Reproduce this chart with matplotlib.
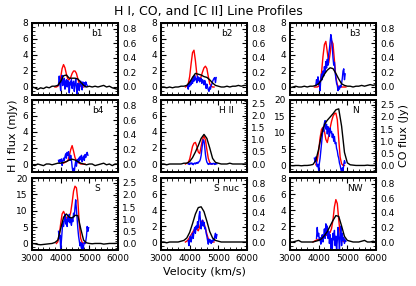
import numpy as np
import matplotlib
matplotlib.use("Agg")
import matplotlib.pyplot as plt
from matplotlib.ticker import MultipleLocator, AutoMinorLocator

# panel names, in reading order
panels = ["b1", "b2", "b3", "b4", "H II", "N", "S", "S nuc", "NW"]

# H I velocity grid (km/s), one point every 100 km/s from 3000 to 6000
hi_v0, hi_dv = 3000, 100

# H I profiles (mJy), black
hi_b1 = [0.0, -0.1, -0.3, -0.1, -0.2, 0.0, -0.1, 0.1, 0.1, 0.2, 0.7, 1.4, 1.5, 1.1, 1.1, 1.1,
         1.0, 0.6, 0.2, 0.0, 0.1, 0.0, 0.1, 0.0, 0.1, 0.2, 0.0, 0.1, -0.1, -0.2, -0.3]
hi_b2 = [0.0, 0.0, -0.1, 0.0, -0.1, 0.0, 0.0, 0.1, 0.1, 0.2, 0.6, 1.2, 1.7, 1.6, 1.5, 1.3,
         1.2, 0.9, 0.5, 0.2, 0.1, 0.0, 0.0, 0.1, 0.0, 0.1, 0.1, 0.2, 0.1, 0.2, 0.2]
hi_b3 = [-0.1, 0.0, 0.1, 0.0, 0.0, 0.1, 0.0, 0.1, 0.1, 0.2, 0.4, 0.9, 1.6, 2.1, 2.4, 2.3,
         1.7, 1.0, 0.4, 0.2, 0.1, 0.1, 0.0, 0.1, 0.1, 0.2, 0.1, 0.2, 0.3, 0.2, 0.3]
hi_b4 = [-0.1, -0.2, 0.0, -0.1, -0.2, 0.0, 0.0, -0.1, 0.0, 0.1, 0.1, 0.2, 0.3, 0.5, 0.6, 0.5,
         0.3, 0.1, 0.0, -0.1, 0.0, 0.0, -0.2, -0.1, 0.0, 0.1, -0.1, 0.0, -0.2, 0.0, 0.0]
hi_hii = [0.0, 0.0, -0.1, 0.0, 0.0, 0.0, 0.0, 0.0, 0.1, 0.1, 0.3, 0.8, 1.5, 2.3, 3.2, 3.7,
          3.2, 2.0, 0.7, 0.2, 0.1, 0.0, 0.0, 0.0, 0.1, 0.0, 0.0, 0.0, 0.0, 0.0, 0.0]
hi_n = [0.0, -0.1, 0.0, 0.0, -0.1, 0.0, 0.0, 0.1, 0.3, 1.5, 5.0, 9.5, 12.5, 13.8, 14.8, 15.8,
        17.0, 17.3, 12.0, 4.0, 0.8, 0.2, 0.1, 0.0, 0.0, 0.0, 0.0, 0.1, 0.0, 0.0, 0.0]
hi_s = [0.0, -0.1, -0.3, -0.4, -0.3, -0.2, -0.1, 0.0, 0.3, 1.0, 4.5, 8.0, 9.0, 8.0, 7.8, 8.6,
        8.5, 4.5, 1.0, 0.2, 0.0, -0.1, 0.0, 0.0, 0.0, -0.2, -0.1, 0.0, 0.0, 0.0, 0.1]
hi_snuc = [0.0, 0.0, -0.1, 0.0, 0.0, 0.0, 0.0, 0.1, 0.2, 0.5, 1.2, 2.3, 3.5, 4.3, 4.4, 3.8,
           2.6, 1.3, 0.5, 0.2, 0.1, 0.0, 0.0, 0.0, 0.0, 0.0, 0.0, 0.0, 0.0, 0.0, 0.0]
hi_nw = [0.0, 0.0, 0.1, 0.2, 0.0, 0.0, 0.0, 0.0, 0.0, 0.1, 0.2, 0.4, 0.8, 1.3, 2.0, 2.7,
         3.3, 3.2, 2.0, 0.7, 0.2, 0.1, 0.0, 0.0, 0.0, 0.1, 0.2, 0.0, 0.0, 0.1, 0.0]

# [C II] profiles (scaled, red): start velocity, 50 km/s steps
cii_dv = 50
cii_v0 = [3800, 3850, 3850, 4100, 3850, 3900, 3850, 3850, 3800]
cii_b1 = [0.0, 0.0, 0.1, 0.3, 1.2, 2.3, 2.8, 2.4, 1.6, 1.0, 0.9, 1.2, 1.7, 2.0, 2.0, 1.7,
          1.0, 0.4, 0.1, 0.0, 0.0]
cii_b2 = [0.0, 0.1, 0.4, 1.3, 2.9, 4.3, 4.6, 3.3, 1.6, 0.8, 0.9, 1.3, 1.9, 2.4, 2.6, 2.3,
          1.3, 0.4, 0.1, 0.0, 0.0]
cii_b3 = [0.0, 0.0, 0.0, 0.1, 0.5, 1.8, 3.8, 5.3, 5.7, 4.4, 3.0, 4.2, 5.8, 5.4, 3.3, 1.2,
          0.3, 0.0, 0.0, 0.0, 0.0, 0.0, 0.0]
cii_b4 = [0.1, 0.2, 0.3, 0.4, 1.0, 1.8, 2.3, 1.6, 0.8, 0.4, 0.2, 0.1, 0.0, 0.0, 0.0, 0.0]
cii_hii = [0.0, 0.1, 0.2, 0.6, 1.4, 2.2, 2.6, 2.7, 2.2, 1.5, 1.3, 2.2, 3.1, 3.5, 3.0, 1.8,
           0.7, 0.2, 0.0, 0.0]
cii_n = [0.2, 1.5, 4.5, 8.5, 11.0, 11.7, 10.5, 8.0, 7.0, 9.0, 11.5, 13.5, 15.0, 15.8, 16.0,
         14.0, 8.0, 2.5, 0.5, 0.0, 0.0]
cii_s = [0.0, 0.5, 2.5, 6.0, 9.0, 9.8, 8.8, 7.8, 7.5, 8.0, 9.5, 12.5, 16.0, 17.5, 17.0, 13.0,
         6.0, 1.5, 0.3, 0.0, 0.0]
cii_snuc = [0.0, 0.1, 0.3, 0.6, 0.9, 1.2, 1.5, 1.8, 1.6, 1.4, 1.9, 2.5, 2.7, 2.4, 1.7, 1.0,
            0.4, 0.1, 0.0, 0.0, 0.0]
cii_nw = [0.0, 0.1, 0.2, 0.3, 0.3, 0.4, 0.5, 0.6, 0.7, 0.8, 0.9, 1.0, 1.2, 1.7, 2.8, 4.4,
          5.3, 4.8, 2.8, 1.0, 0.3, 0.1, 0.0]

# CO profiles (Jy, blue): start velocity, 25 km/s steps
co_dv = 25
co_v0 = [3925, 3925, 3900, 3925, 3950, 3850, 3925, 3950, 3925]
co_b1 = [0.03, 0.15, 0.05, -0.05, 0.10, 0.16, 0.02, 0.08, 0.12, -0.03, 0.06, 0.10, 0.00, 0.09,
         0.05, -0.08, 0.07, 0.03, 0.10, -0.02, 0.05, 0.08, -0.06, 0.04, 0.11, 0.00, -0.10, 0.05,
         0.02, -0.05, 0.06, 0.08, 0.01, -0.04, 0.07, 0.03, 0.06, 0.00, 0.07, 0.04, 0.02]
co_b2 = [0.02, -0.03, 0.05, 0.01, 0.08, 0.03, 0.10, 0.05, 0.14, 0.08, 0.16, 0.10, 0.12, 0.06,
         0.15, 0.09, 0.13, 0.07, 0.11, 0.12, 0.05, 0.10, 0.08, 0.03, 0.09, 0.05, -0.02, 0.04,
         0.00, -0.04, -0.06, 0.00, -0.03, 0.02, 0.04, 0.08, 0.10, 0.12, 0.13, 0.06, 0.13]
co_b3 = [0.02, 0.10, 0.05, 0.14, 0.03, 0.08, -0.05, 0.12, 0.18, 0.10, 0.22, 0.15, 0.28, 0.20,
         0.35, 0.26, 0.38, 0.30, 0.45, 0.52, 0.62, 0.72, 0.66, 0.55, 0.40, 0.30, 0.34, 0.20,
         0.12, 0.05, 0.02, -0.05, 0.00, -0.03, 0.02, 0.00, 0.05, 0.12, 0.22, 0.25, 0.10, 0.18]
co_b4 = [0.05, 0.02, 0.06, 0.03, 0.07, -0.02, 0.04, 0.08, 0.05, 0.10, 0.14, 0.08, 0.16, 0.12,
         0.17, 0.09, 0.05, 0.12, 0.06, -0.04, -0.10, -0.06, -0.11, -0.02, 0.04, -0.03, 0.06,
         0.02, 0.08, 0.04, 0.10, 0.06, 0.12, 0.03, 0.08, 0.11, 0.05, 0.13, 0.09, 0.14, 0.16, 0.12]
co_hii = [0.00, 0.03, -0.02, 0.02, 0.05, 0.00, 0.03, -0.03, 0.02, 0.04, 0.00, 0.05, 0.02, 0.07,
          0.04, 0.10, 0.12, 0.20, 0.35, 0.60, 0.85, 1.00, 0.95, 0.70, 0.40, 0.20, 0.08, 0.03,
          -0.02, 0.02, 0.00, 0.03, -0.01, 0.02, 0.00, 0.03, 0.01, -0.02, 0.02, 0.00, 0.01]
co_n = [0.30, 0.15, 0.35, 0.10, -0.05, 0.05, -0.20, 0.10, 0.30, 0.60, 0.90, 1.20, 1.55, 1.40,
        1.75, 1.85, 1.50, 1.70, 1.30, 1.60, 1.45, 1.20, 1.55, 1.35, 1.40, 1.15, 1.30, 1.00,
        1.20, 0.90, 0.95, 0.70, 0.60, 0.40, 0.30, 0.10, 0.00, -0.15, -0.30, -0.10, -0.25, 0.05,
        0.20, 0.10]
co_s = [0.50, 0.20, 0.35, -0.20, 0.10, 0.50, 0.90, 0.70, 1.00, 1.20, 0.80, 1.00, 0.70, 1.10,
        0.90, 1.20, 0.85, 1.05, 0.75, 1.00, 0.90, 1.25, 1.10, 1.50, 1.80, 1.40, 1.00, 0.60,
        0.30, 0.10, -0.10, 0.05, -0.20, 0.00, -0.30, -0.10, 0.05, 0.00, 0.10, 0.30, 0.70, 0.50,
        0.65]
co_snuc = [0.02, -0.05, 0.03, 0.08, 0.00, 0.06, 0.12, 0.05, 0.15, 0.20, 0.12, 0.22, 0.18, 0.28,
           0.20, 0.35, 0.42, 0.30, 0.18, 0.26, 0.30, 0.22, 0.27, 0.18, 0.20, 0.12, 0.08, 0.02,
           -0.03, 0.04, 0.00, 0.03, -0.02, 0.02, 0.00, 0.04, 0.02, 0.08, 0.12, 0.05, 0.10]
co_nw = [0.05, 0.20, 0.08, 0.12, 0.02, 0.06, -0.03, 0.04, 0.10, 0.00, 0.08, 0.18, 0.05, 0.25,
         0.10, 0.22, 0.05, 0.15, -0.02, 0.10, -0.08, 0.05, -0.10, 0.12, 0.03, 0.16, -0.05, 0.08,
         -0.12, 0.02, 0.20, 0.05, -0.10, 0.10, 0.22, -0.05, 0.12, 0.02, 0.06, -0.02, 0.03, 0.01]

hi_all = [hi_b1, hi_b2, hi_b3, hi_b4, hi_hii, hi_n, hi_s, hi_snuc, hi_nw]
cii_all = [cii_b1, cii_b2, cii_b3, cii_b4, cii_hii, cii_n, cii_s, cii_snuc, cii_nw]
co_all = [co_b1, co_b2, co_b3, co_b4, co_hii, co_n, co_s, co_snuc, co_nw]

# axis limits: left (H I) and right (CO)
hi_lims = [(-1, 8)] * 5 + [(-2, 20), (-2, 20), (-1, 8), (-1, 8)]
co_scale = [0.11, 0.11, 0.11, 0.11, 0.33, 0.135, 0.135, 0.11, 0.11]

W, H = 416, 286
fig = plt.figure(figsize=(W / 100, H / 100), dpi=100)
plt.rcParams['font.size'] = 6.5

col_x = [32, 161, 290]
row_y = [23, 100, 178]
aw, ah = 86, 72

for k, name in enumerate(panels):
    r, c = divmod(k, 3)
    ax = fig.add_axes([col_x[c] / W, 1 - (row_y[r] + ah) / H, aw / W, ah / H])
    ax2 = ax.twinx()

    v_hi = hi_v0 + hi_dv * np.arange(len(hi_all[k]))
    v_cii = cii_v0[k] + cii_dv * np.arange(len(cii_all[k]))
    v_co = co_v0[k] + co_dv * np.arange(len(co_all[k]))

    ax.plot(v_cii, cii_all[k], color='red', lw=1.0)
    ax2.plot(v_co, co_all[k], color='blue', lw=1.0)
    ax2.plot(v_hi, np.array(hi_all[k]) * co_scale[k], color='black', lw=1.0)

    lo, hi = hi_lims[k]
    ax.set_ylim(lo, hi)
    ax2.set_ylim(lo * co_scale[k], hi * co_scale[k])
    ax.set_xlim(3000, 6000)
    ax.xaxis.set_major_locator(MultipleLocator(1000))
    ax.yaxis.set_major_locator(MultipleLocator(5 if hi > 10 else 2))
    ax2.yaxis.set_major_locator(MultipleLocator(0.5 if co_scale[k] > 0.12 else 0.2))
    if co_scale[k] > 0.12:
        ax2.yaxis.set_major_formatter(plt.FormatStrFormatter('%.1f'))
    for a in (ax, ax2):
        a.xaxis.set_minor_locator(AutoMinorLocator())
        a.yaxis.set_minor_locator(AutoMinorLocator())
        for s in a.spines.values():
            s.set_linewidth(1.3)
    ax.tick_params(which='both', direction='in', top=True, right=False, labelsize=6.5, pad=3)
    ax2.tick_params(which='both', direction='in', labelsize=6.5, pad=3)
    ax.tick_params(which='major', length=3.5)
    ax.tick_params(which='minor', length=2)
    ax2.tick_params(which='major', length=3.5)
    ax2.tick_params(which='minor', length=2)
    if r < 2:
        ax.set_xticklabels([])
    ax.text(0.76, 0.86, name, transform=ax.transAxes, ha='center', va='center', fontsize=6.5)

    if r == 1 and c == 0:
        ax.set_ylabel('H I flux (mJy)', fontsize=8, labelpad=3)
    if r == 1 and c == 2:
        ax2.set_ylabel('CO flux (Jy)', fontsize=8, labelpad=3)
    if r == 2 and c == 1:
        ax.set_xlabel('Velocity (km/s)', fontsize=8, labelpad=3)

fig.text(0.5, 1 - 12 / H, 'H I, CO, and [C II] Line Profiles', ha='center', va='center', fontsize=9)

plt.savefig('out.png', dpi=100)
